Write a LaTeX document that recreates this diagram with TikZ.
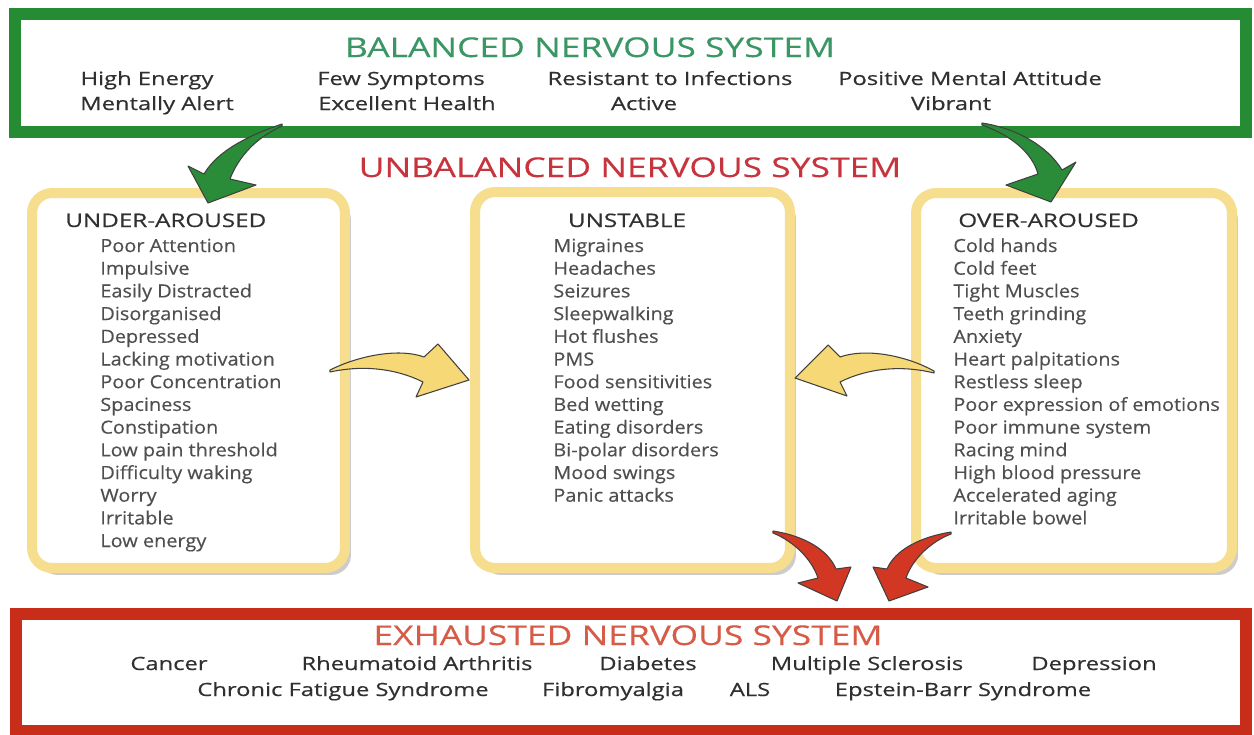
\documentclass[tikz,border=0pt]{standalone}
\usepackage{fontspec}
\setmainfont{Open Sans}
\newfontfamily\wideface[FakeStretch=1.3, FakeBold=0.5]{Open Sans}
\newfontfamily\titleface[FakeStretch=1.3, FakeBold=0.3]{Open Sans}
\newfontfamily\listface[FakeStretch=1.1, FakeBold=0.3]{Open Sans}
\usetikzlibrary{shadows}

\definecolor{balgreen}{RGB}{38,140,52}
\definecolor{baltext}{RGB}{58,150,100}
\definecolor{unbred}{RGB}{200,52,62}
\definecolor{exhred}{RGB}{200,45,25}
\definecolor{exhtext}{RGB}{214,92,72}
\definecolor{boxyellow}{RGB}{246,222,142}
\definecolor{arrowyellow}{RGB}{247,216,118}
\definecolor{arrowred}{RGB}{210,55,35}
\definecolor{arrowgreen}{RGB}{42,140,56}
\definecolor{inktext}{RGB}{48,48,48}

\tikzset{
  title/.style={font=\titleface\fontsize{15.5}{18}\selectfont, anchor=base, inner sep=0pt},
  entry/.style={font=\wideface\fontsize{10.4}{12}\selectfont, text=inktext, anchor=base, inner sep=0pt},
  head/.style={font=\wideface\fontsize{10.6}{12}\selectfont, text=inktext, anchor=base west, inner sep=0pt},
  item/.style={font=\listface\fontsize{10.3}{12}\selectfont, text=inktext!85, anchor=base west, inner sep=0pt},
  frame/.style={line width=0.24cm, fill=white, inner sep=0pt},
  panel/.style={draw=boxyellow, line width=0.2cm, fill=white, rounded corners=0.4cm, inner sep=0pt,
    drop shadow={shadow xshift=0.12cm, shadow yshift=-0.14cm, opacity=0.4}},
  bigarrow/.style={draw=black!75, line width=0.6pt, line join=round},
}

\begin{document}
\begin{tikzpicture}[x=0.02cm, y=-0.02cm]
        \useasboundingbox (0,0) rectangle (1254,734);
        \fill[white] (0,0) rectangle (1254,734);

        \node[frame, draw=balgreen, minimum width=24.62cm, minimum height=2.36cm] (balanced) at (630.5,73) {};
        \node[frame, draw=exhred, minimum width=24.6cm, minimum height=2.34cm] (exhausted) at (631,672.5) {};
        \node[panel, minimum width=6.26cm, minimum height=7.5cm] (under) at (188.5,380.5) {};
        \node[panel, minimum width=6.3cm, minimum height=7.52cm] (unstable) at (632.5,380) {};
        \node[panel, minimum width=6.32cm, minimum height=7.5cm] (over) at (1074,380.5) {};

        \node[title, text=baltext] (bal-title) at (590,57) {BALANCED NERVOUS SYSTEM};
        \foreach\x/\t [count=\i] in {147/High Energy, 401/Few Symptoms, 670/Resistant to Infections, 970/Positive Mental Attitude}{
            \node[entry] (bal-a\i) at (\x,85) {\t};
        }
        \foreach\x/\t [count=\i] in {157/Mentally Alert, 407/Excellent Health, 644/Active, 951/Vibrant}{
            \node[entry] (bal-b\i) at (\x,110) {\t};
        }

        \node[title, text=unbred] (unb-title) at (630,177) {UNBALANCED NERVOUS SYSTEM};

        \def\step{22.7}
        \node[head] (under-head) at (65,227) {UNDER-AROUSED};
        \foreach\t [count=\i from 0] in {Poor Attention, Impulsive, Easily Distracted, Disorganised, Depressed, Lacking motivation, Poor Concentration, Spaciness, Constipation, Low pain threshold, Difficulty waking, Worry, Irritable, Low energy}{
            \node[item] (under-\i) at (100,{252+\step*\i}) {\t};
        }
        \node[head, anchor=base] (unstable-head) at (627,227) {UNSTABLE};
        \foreach\t [count=\i from 0] in {Migraines, Headaches, Seizures, Sleepwalking, Hot flushes, PMS, Food sensitivities, Bed wetting, Eating disorders, Bi-polar disorders, Mood swings, Panic attacks}{
            \node[item] (unstable-\i) at (553,{252+\step*\i}) {\t};
        }
        \node[head] (over-head) at (958,227) {OVER-AROUSED};
        \foreach\t [count=\i from 0] in {Cold hands, Cold feet, Tight Muscles, Teeth grinding, Anxiety, Heart palpitations, Restless sleep, Poor expression of emotions, Poor immune system, Racing mind, High blood pressure, Accelerated aging, Irritable bowel}{
            \node[item] (over-\i) at (953,{252+\step*\i}) {\t};
        }

        \node[title, text=exhtext] (exh-title) at (628,645) {EXHAUSTED NERVOUS SYSTEM};
        \foreach\x/\t [count=\i] in {169/Cancer, 417/Rheumatoid Arthritis, 648/Diabetes, 867/Multiple Sclerosis, 1094/Depression}{
            \node[entry] (exh-a\i) at (\x,670) {\t};
        }
        \foreach\x/\t [count=\i] in {343/Chronic Fatigue Syndrome, 613/Fibromyalgia, 750/ALS, 963/Epstein-Barr Syndrome}{
            \node[entry] (exh-b\i) at (\x,696) {\t};
        }

        \coordinate (gl-tail) at (282,124); \coordinate (gl-tip) at (208,203);
        \coordinate (gr-tail) at (982,123); \coordinate (gr-tip) at (1051,202);
        \coordinate (yl-tail) at (330,370); \coordinate (yl-tip) at (469,380);
        \coordinate (yr-tail) at (934,371); \coordinate (yr-tip) at (795,378);
        \coordinate (rl-tail) at (773,531); \coordinate (rl-tip) at (837,601);
        \coordinate (rr-tail) at (951,532); \coordinate (rr-tip) at (889,601);

        \filldraw[bigarrow, fill=arrowgreen] (gl-tail) .. controls (250,135) and (218,150) .. (204,174) -- (188,166) -- (gl-tip) -- (256,185) -- (230,179) .. controls (238,158) and (255,138) .. (282,126) -- cycle;
        \filldraw[bigarrow, fill=arrowgreen] (gr-tail) .. controls (1015,128) and (1047,145) .. (1062,170) -- (1076,162) -- (gr-tip) -- (1006,185) -- (1038,174) .. controls (1032,152) and (1010,135) .. (982,125) -- cycle;
        \filldraw[bigarrow, fill=arrowyellow] (yl-tail) .. controls (360,355) and (400,348) .. (424,357) -- (438,344) -- (yl-tip) -- (416,397) -- (423,382) .. controls (395,368) and (362,365) .. (330,372) -- cycle;
        \filldraw[bigarrow, fill=arrowyellow] (yr-tail) .. controls (905,355) and (865,348) .. (840,357) -- (828,345) -- (yr-tip) -- (847,396) -- (840,382) .. controls (868,368) and (902,365) .. (934,373) -- cycle;
        \filldraw[bigarrow, fill=arrowred] (rl-tail) .. controls (805,536) and (828,550) .. (836,569) -- (851,567) -- (rl-tip) -- (798,583) -- (818,578) .. controls (812,560) and (795,542) .. (773,533) -- cycle;
        \filldraw[bigarrow, fill=arrowred] (rr-tail) .. controls (920,537) and (895,550) .. (887,569) -- (873,567) -- (rr-tip) -- (928,587) -- (906,578) .. controls (912,560) and (930,542) .. (951,534) -- cycle;
\end{tikzpicture}
\end{document}
